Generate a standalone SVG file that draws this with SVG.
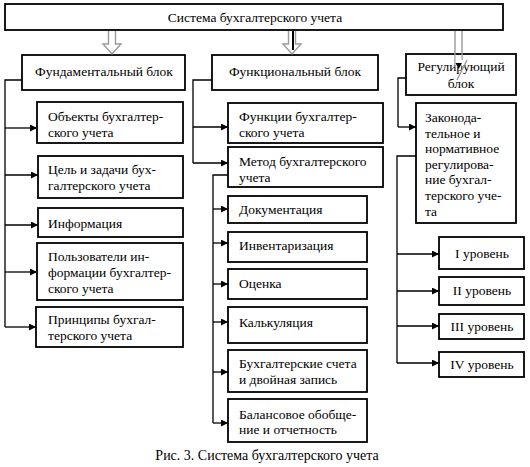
<svg xmlns="http://www.w3.org/2000/svg" width="530" height="467" viewBox="0 0 530 467">
<defs>
<marker id="ah" viewBox="0 0 10 10" refX="10" refY="5" markerWidth="7" markerHeight="7" markerUnits="userSpaceOnUse" orient="auto">
<path d="M0,0 L10,5 L0,10 z" fill="#000"/>
</marker>
<style>
.box{fill:#fff;stroke:#000;stroke-width:1.8}
.t{font-family:"Liberation Serif","Times New Roman",serif;font-size:13.5px;fill:#000}
.c{text-anchor:middle}
.ln{fill:none;stroke:#000;stroke-width:1.3}
.ar{fill:none;stroke:#000;stroke-width:1.3;marker-end:url(#ah)}
.ha{fill:#fff;stroke:#9a9a9a;stroke-width:1.4}
</style>
</defs>
<rect width="530" height="467" fill="#fff"/>

<g id="root">
<rect class="box" x="5" y="4" width="498" height="26"/>
<text class="t c" x="255" y="22">Система бухгалтерского учета</text>
</g>

<g id="fund">
<rect class="box" x="22" y="55" width="163" height="35"/>
<text class="t c" x="104" y="76">Фундаментальный блок</text>
</g>
<g id="func">
<rect class="box" x="212" y="55" width="166" height="35"/>
<text class="t c" x="295" y="76">Функциональный блок</text>
</g>
<g id="reg">
<rect class="box" x="406" y="54" width="110" height="41"/>
<text class="t c" x="461" y="71">Регулирующий</text>
<text class="t c" x="461" y="88">блок</text>
</g>

<g id="f1"><rect class="box" x="37" y="102" width="146" height="41"/>
<text class="t" x="48" y="121">Объекты бухгалтер-</text><text class="t" x="48" y="137">ского учета</text></g>
<g id="f2"><rect class="box" x="38" y="156" width="145" height="42"/>
<text class="t" x="48" y="174">Цель и задачи бух-</text><text class="t" x="48" y="190">галтерского учета</text></g>
<g id="f3"><rect class="box" x="38" y="208" width="145" height="29"/>
<text class="t" x="48" y="228">Информация</text></g>
<g id="f4"><rect class="box" x="37" y="243" width="146" height="57"/>
<text class="t" x="48" y="261">Пользователи ин-</text><text class="t" x="48" y="277">формации бухгалтер-</text><text class="t" x="48" y="293">ского учета</text></g>
<g id="f5"><rect class="box" x="36" y="307" width="147" height="40"/>
<text class="t" x="48" y="324">Принципы бухгал-</text><text class="t" x="48" y="340">терского учета</text></g>

<g id="m1"><rect class="box" x="228" y="103" width="155" height="40"/>
<text class="t" x="239" y="121">Функции бухгалтер-</text><text class="t" x="239" y="137">ского учета</text></g>
<g id="m2"><rect class="box" x="228" y="147" width="155" height="40"/>
<text class="t" x="239" y="166">Метод бухгалтерского</text><text class="t" x="239" y="182">учета</text></g>
<g id="m3"><rect class="box" x="228" y="196" width="139" height="27"/>
<text class="t" x="239" y="214">Документация</text></g>
<g id="m4"><rect class="box" x="228" y="232" width="139" height="30"/>
<text class="t" x="239" y="250">Инвентаризация</text></g>
<g id="m5"><rect class="box" x="228" y="269" width="139" height="30"/>
<text class="t" x="239" y="288">Оценка</text></g>
<g id="m6"><rect class="box" x="228" y="307" width="139" height="36"/>
<text class="t" x="239" y="327">Калькуляция</text></g>
<g id="m7"><rect class="box" x="228" y="350" width="139" height="42"/>
<text class="t" x="239" y="368">Бухгалтерские счета</text><text class="t" x="239" y="384">и двойная запись</text></g>
<g id="m8"><rect class="box" x="228" y="399" width="139" height="43"/>
<text class="t" x="239" y="419">Балансовое обобще-</text><text class="t" x="239" y="434">ние и отчетность</text></g>

<g id="r1"><rect class="box" x="416" y="103" width="100" height="120"/>
<text class="t" x="425" y="122">Законода-</text><text class="t" x="425" y="138">тельное и</text><text class="t" x="425" y="153">нормативное</text><text class="t" x="425" y="169">регулирова-</text><text class="t" x="425" y="184">ние бухгал-</text><text class="t" x="425" y="200">терского уче-</text><text class="t" x="425" y="216">та</text></g>
<g id="r2"><rect class="box" x="439" y="237" width="85" height="32"/>
<text class="t c" x="482" y="258">I уровень</text></g>
<g id="r3"><rect class="box" x="439" y="277" width="85" height="28"/>
<text class="t c" x="482" y="295">II уровень</text></g>
<g id="r4"><rect class="box" x="439" y="314" width="85" height="25"/>
<text class="t c" x="482" y="331">III уровень</text></g>
<g id="r5"><rect class="box" x="439" y="352" width="85" height="25"/>
<text class="t c" x="482" y="369">IV уровень</text></g>

<g id="connectors">
<path class="ha" d="M108.5,31 V44 H103 L112,54 L121,44 H115.5 V31"/>
<path class="ha" d="M288.5,31 V44 H283 L292,54 L301,44 H295.5 V31"/>
<line x1="293" y1="31" x2="293" y2="50" stroke="#000" stroke-width="2"/>
<path class="ha" d="M455,31 V67 M462,31 V60" />
<rect x="455.7" y="55" width="5.6" height="12" fill="#fff"/>
<line x1="467" y1="60" x2="457" y2="80" stroke="#9a9a9a" stroke-width="1.4"/>
<path d="M455.5,63 L462,63 L458.7,69 z" fill="#000"/>

<path class="ln" d="M22,80 H5 V327"/>
<line class="ar" x1="5" y1="128" x2="37" y2="128"/>
<line class="ar" x1="5" y1="175" x2="38" y2="175"/>
<line class="ar" x1="5" y1="225" x2="38" y2="225"/>
<line class="ar" x1="5" y1="272" x2="37" y2="272"/>
<line class="ar" x1="5" y1="327" x2="36" y2="327"/>

<path class="ln" d="M212,80 H193 V163"/>
<line class="ar" x1="193" y1="127" x2="228" y2="127"/>
<line class="ar" x1="193" y1="163" x2="228" y2="163"/>
<path class="ln" d="M228,175 H213 V423"/>
<line class="ar" x1="213" y1="209" x2="228" y2="209"/>
<line class="ar" x1="213" y1="243" x2="228" y2="243"/>
<line class="ar" x1="213" y1="284" x2="228" y2="284"/>
<line class="ar" x1="213" y1="322" x2="228" y2="322"/>
<line class="ar" x1="213" y1="372" x2="228" y2="372"/>
<line class="ar" x1="213" y1="423" x2="228" y2="423"/>

<path class="ln" d="M406,78 H398 V127"/>
<line class="ar" x1="398" y1="127" x2="416" y2="127"/>
<path class="ln" d="M416,156 H397 V363"/>
<line class="ar" x1="397" y1="254" x2="439" y2="254"/>
<line class="ar" x1="397" y1="291" x2="439" y2="291"/>
<line class="ar" x1="397" y1="326" x2="439" y2="326"/>
<line class="ar" x1="397" y1="363" x2="439" y2="363"/>
</g>

<text class="t c" x="267" y="460" style="font-size:14px">Рис. 3. Система бухгалтерского учета</text>
</svg>
